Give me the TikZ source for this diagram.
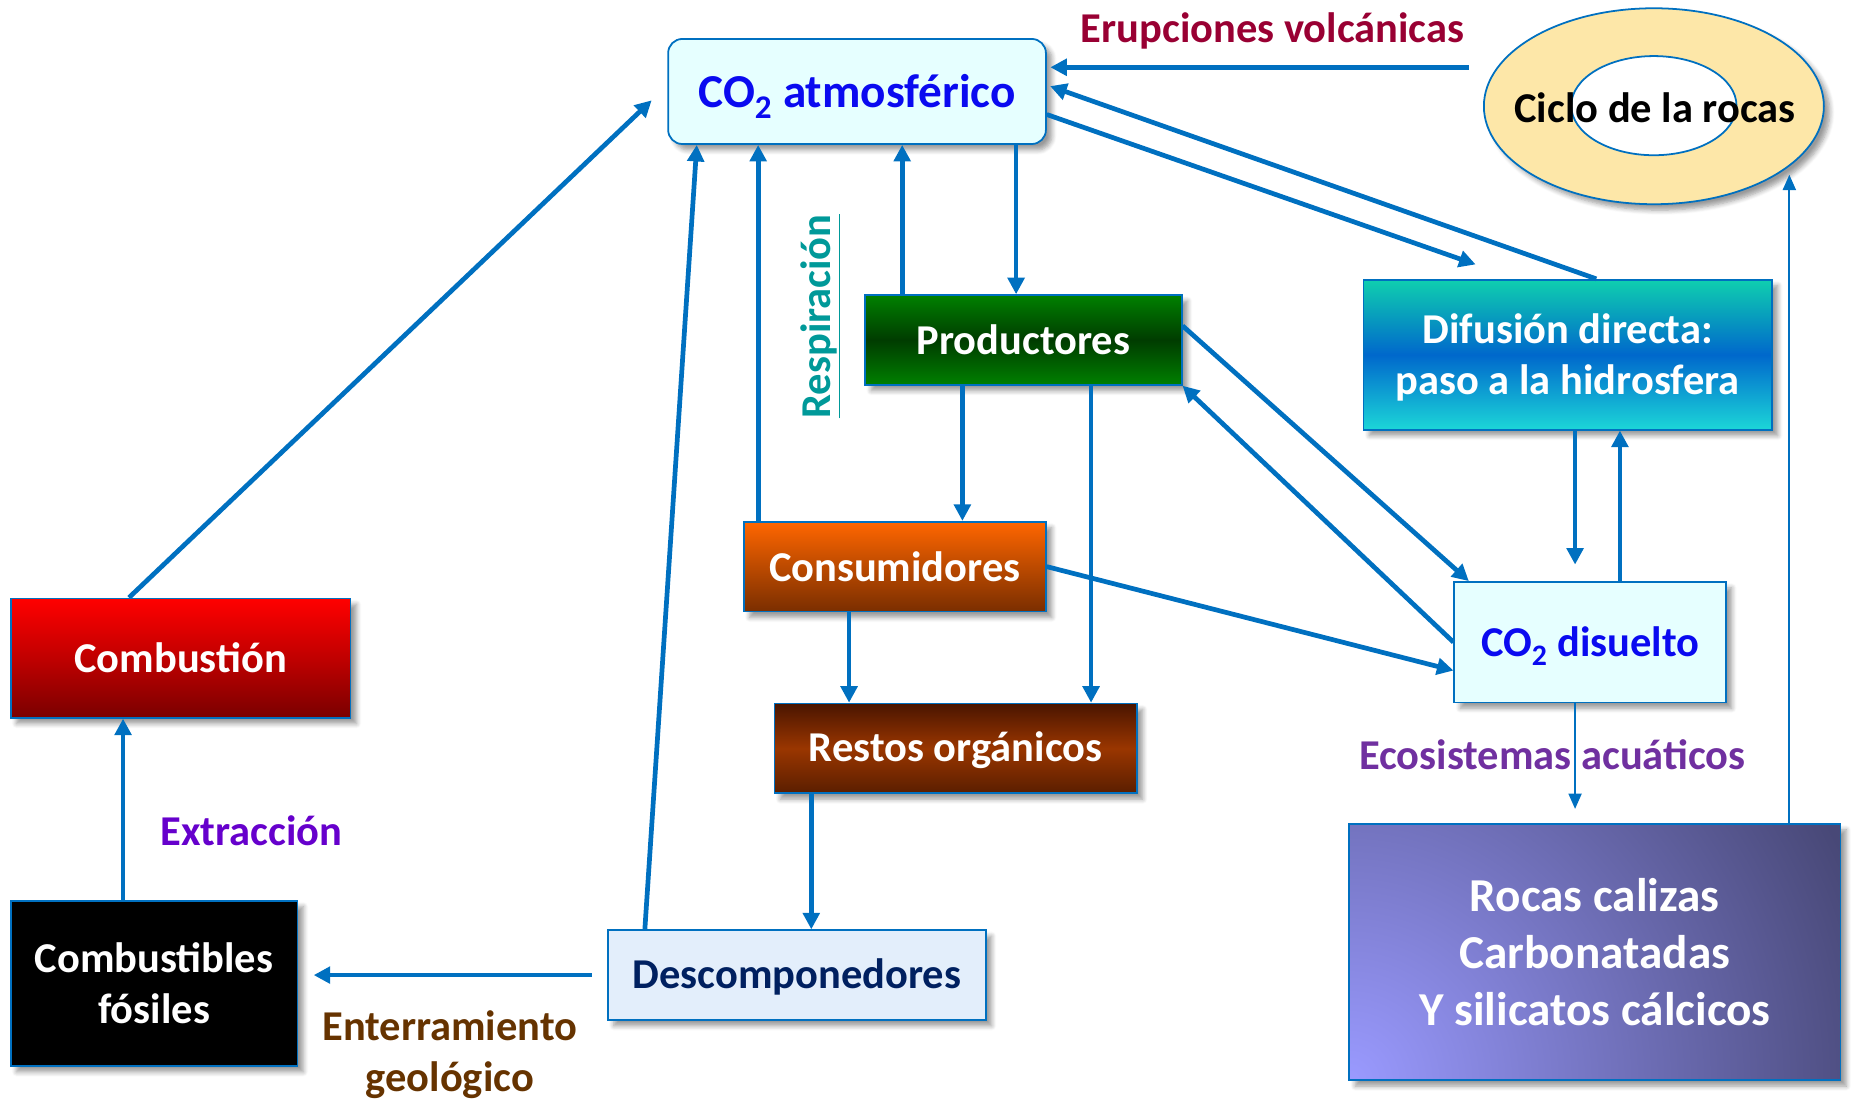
\documentclass[tikz,border=0pt]{standalone}
\usepackage{fontspec}
\setmainfont{Carlito}
\usetikzlibrary{arrows.meta,shadows,shadows.blur,shapes.geometric,calc}
\definecolor{cblue}{HTML}{0070C0}
\definecolor{co2fill}{HTML}{E6FFFF}
\definecolor{co2txt}{HTML}{0A0AF0}
\definecolor{desctxt}{HTML}{002060}
\definecolor{descfill}{HTML}{E3EEFB}
\definecolor{eruptxt}{HTML}{990033}
\definecolor{extrtxt}{HTML}{6600CC}
\definecolor{enttxt}{HTML}{663300}
\definecolor{ecotxt}{HTML}{7030A0}
\definecolor{resptxt}{HTML}{009999}
\definecolor{ringfill}{HTML}{FDE7A8}
\definecolor{grA}{HTML}{008000}
\definecolor{grB}{HTML}{003C00}
\definecolor{orA}{HTML}{FF6600}
\definecolor{orB}{HTML}{7A2E00}
\definecolor{orM}{HTML}{BC4A00}
\definecolor{brA}{HTML}{4A1500}
\definecolor{brM}{HTML}{9A3600}
\definecolor{brB}{HTML}{5A1E00}
\definecolor{rdA}{HTML}{FF0000}
\definecolor{rdB}{HTML}{7A0000}
\definecolor{rdM}{HTML}{C00000}
\definecolor{dfA}{HTML}{0FCFAF}
\definecolor{dfM}{HTML}{0068CC}
\definecolor{dfB}{HTML}{1CD6D8}
\definecolor{rkA}{HTML}{484877}
\definecolor{rkB}{HTML}{9A9AFF}
\begin{document}
\begin{tikzpicture}[x=1pt,y=-1pt,
  txt/.style={font=\fontsize{36}{43}\selectfont\bfseries, align=center, inner sep=0pt},
  shd/.style={blur shadow={shadow xshift=5pt, shadow yshift=-5pt, shadow blur steps=6, shadow blur radius=4pt, shadow opacity=40}},
  boxnode/.style={txt, rectangle, draw=cblue, line width=1.5pt, text=white, shd},
  arr/.style={draw=cblue, line width=4pt, -{Triangle[length=14pt,width=14pt]}},
  thinarr/.style={draw=cblue, line width=1.8pt, -{Triangle[length=13pt,width=11pt]}},
]
\useasboundingbox (0,0) rectangle (1568,931);

% boxes
\node[boxnode, fill=co2fill, rounded corners=12pt, minimum width=320pt, minimum height=89pt, text=co2txt, font=\fontsize{40}{48}\selectfont\bfseries, text height=27pt, text depth=0pt] (co2a) at (726,77.5) {CO\textsubscript{2} atmosférico};
\node[boxnode, minimum width=268pt, minimum height=76pt, top color=grA, bottom color=grA, middle color=grB] (prod) at (867,288) {Productores};
\node[boxnode, minimum width=256pt, minimum height=76pt, top color=orA, bottom color=orB, middle color=orM] (cons) at (758,480) {Consumidores};
\node[boxnode, minimum width=307pt, minimum height=76pt, top color=brA, bottom color=brB, middle color=brM, text depth=3pt] (rest) at (809.5,634) {Restos orgánicos};
\node[boxnode, minimum width=320pt, minimum height=76pt, fill=descfill, text=desctxt, text depth=3pt] (desc) at (675,826) {Descomponedores};
\node[boxnode, minimum width=288pt, minimum height=101pt, top color=rdA, bottom color=rdB, middle color=rdM] (comb) at (153,557.5) {Combustión};
\node[boxnode, minimum width=243pt, minimum height=140pt, fill=black] (fos) at (130.5,833) {Combustibles\\fósiles};
\node[boxnode, minimum width=346pt, minimum height=127pt, top color=dfA, bottom color=dfB, middle color=dfM, text depth=1pt] (dif) at (1328,300.5) {Difusión directa:\\paso a la hidrosfera};
\node[boxnode, minimum width=230pt, minimum height=102pt, fill=co2fill, text=co2txt, text height=24pt, text depth=0pt] (dis) at (1347,544) {CO\textsubscript{2} disuelto};
\node[boxnode, minimum width=416pt, minimum height=217pt, fill=rkA,
  path picture={\shade[inner color=rkB, outer color=rkA] (path picture bounding box.south west) circle (460pt);},
  font=\fontsize{40}{48.5}\selectfont\bfseries] (rocas) at (1351,806.5) {Rocas calizas\\Carbonatadas\\Y silicatos cálcicos};

% ring
\node[ellipse, draw=cblue, line width=1.5pt, fill=ringfill, minimum width=288pt, minimum height=166pt, inner sep=0pt, shd] (ring) at (1401,90) {};
\node[ellipse, draw=cblue, line width=1.5pt, fill=white, minimum width=140pt, minimum height=84pt, inner sep=0pt] (ringin) at (1401,89.5) {};
\node[txt] (ringtxt) at (1402,91) {Ciclo de la rocas};

% labels
\node[txt, text=eruptxt] (erup) at (1078,26) {Erupciones volcánicas};
\node[txt, text=extrtxt] (extr) at (213,704) {Extracción};
\node[txt, text=enttxt] (ent) at (381,893.5) {Enterramiento\\geológico};
\node[txt, text=ecotxt] (eco) at (1315,639) {Ecosistemas acuáticos};
\node[txt, text=resptxt, rotate=90] (resp) at (695,268) {\underline{Respiración}};

% free ends
\coordinate (tipA) at (552,85);
\coordinate (tipT) at (1250,224);
\coordinate (ringtip) at (1515,148);

% connectors
\draw[arr] ([xshift=101pt]comb.north west) -- (tipA);
\draw[arr] ([xshift=96pt]fos.north west) -- ([xshift=96pt]comb.south west);
\draw[arr, shorten <=13pt, shorten >=13pt] (desc.west) -- (desc.west -| fos.east);
\draw[arr] ([xshift=32pt]desc.north west) -- ([xshift=25pt]co2a.south west);
\draw[arr] ([xshift=13pt]cons.north west) coordinate (e1) -- (e1 |- co2a.south);
\draw[arr] ([xshift=32pt]prod.north west) coordinate (f1) -- (f1 |- co2a.south);
\draw[arr] ([xshift=-26pt]co2a.south east) coordinate (g1) -- (g1 |- prod.north);
\draw[arr] ([xshift=83pt]prod.south west) coordinate (h1) -- (h1 |- cons.north);
\draw[arr] ([xshift=192pt]prod.south west) coordinate (i1) -- (i1 |- rest.north);
\draw[arr] ([xshift=90pt]cons.south west) coordinate (j1) -- (j1 |- rest.north);
\draw[arr] ([xshift=32pt]rest.south west) coordinate (k1) -- (k1 |- desc.north);
\draw[arr] ([yshift=12pt]prod.east) -- ([xshift=13pt]dis.north west);
\draw[arr] (dis.west) -- (prod.south east);
\draw[arr] (cons.east) -- ([yshift=-24pt]dis.west);
\draw[arr, shorten >=14pt] ([xshift=180pt]dif.south west) coordinate (o1) -- (o1 |- dis.north);
\draw[arr] ([xshift=141pt]dis.north west) coordinate (p1) -- (p1 |- dif.south);
\draw[thinarr, shorten >=12pt] ([xshift=103pt]dis.south west) coordinate (q1) -- (q1 |- rocas.north);
\draw[thinarr] ([xshift=-44pt]rocas.north east) coordinate (r1) -- (r1 |- ringtip);
\draw[arr, shorten >=3pt] ([shift={(-12pt,33pt)}]ring.west) coordinate (s1) -- (s1 -| co2a.east);
\draw[arr] ([yshift=-19.5pt]co2a.east) -- (tipT);
\draw[arr, shorten >=3pt] ([xshift=198pt]dif.north west) -- ([yshift=5.5pt]co2a.east);
\end{tikzpicture}
\end{document}
